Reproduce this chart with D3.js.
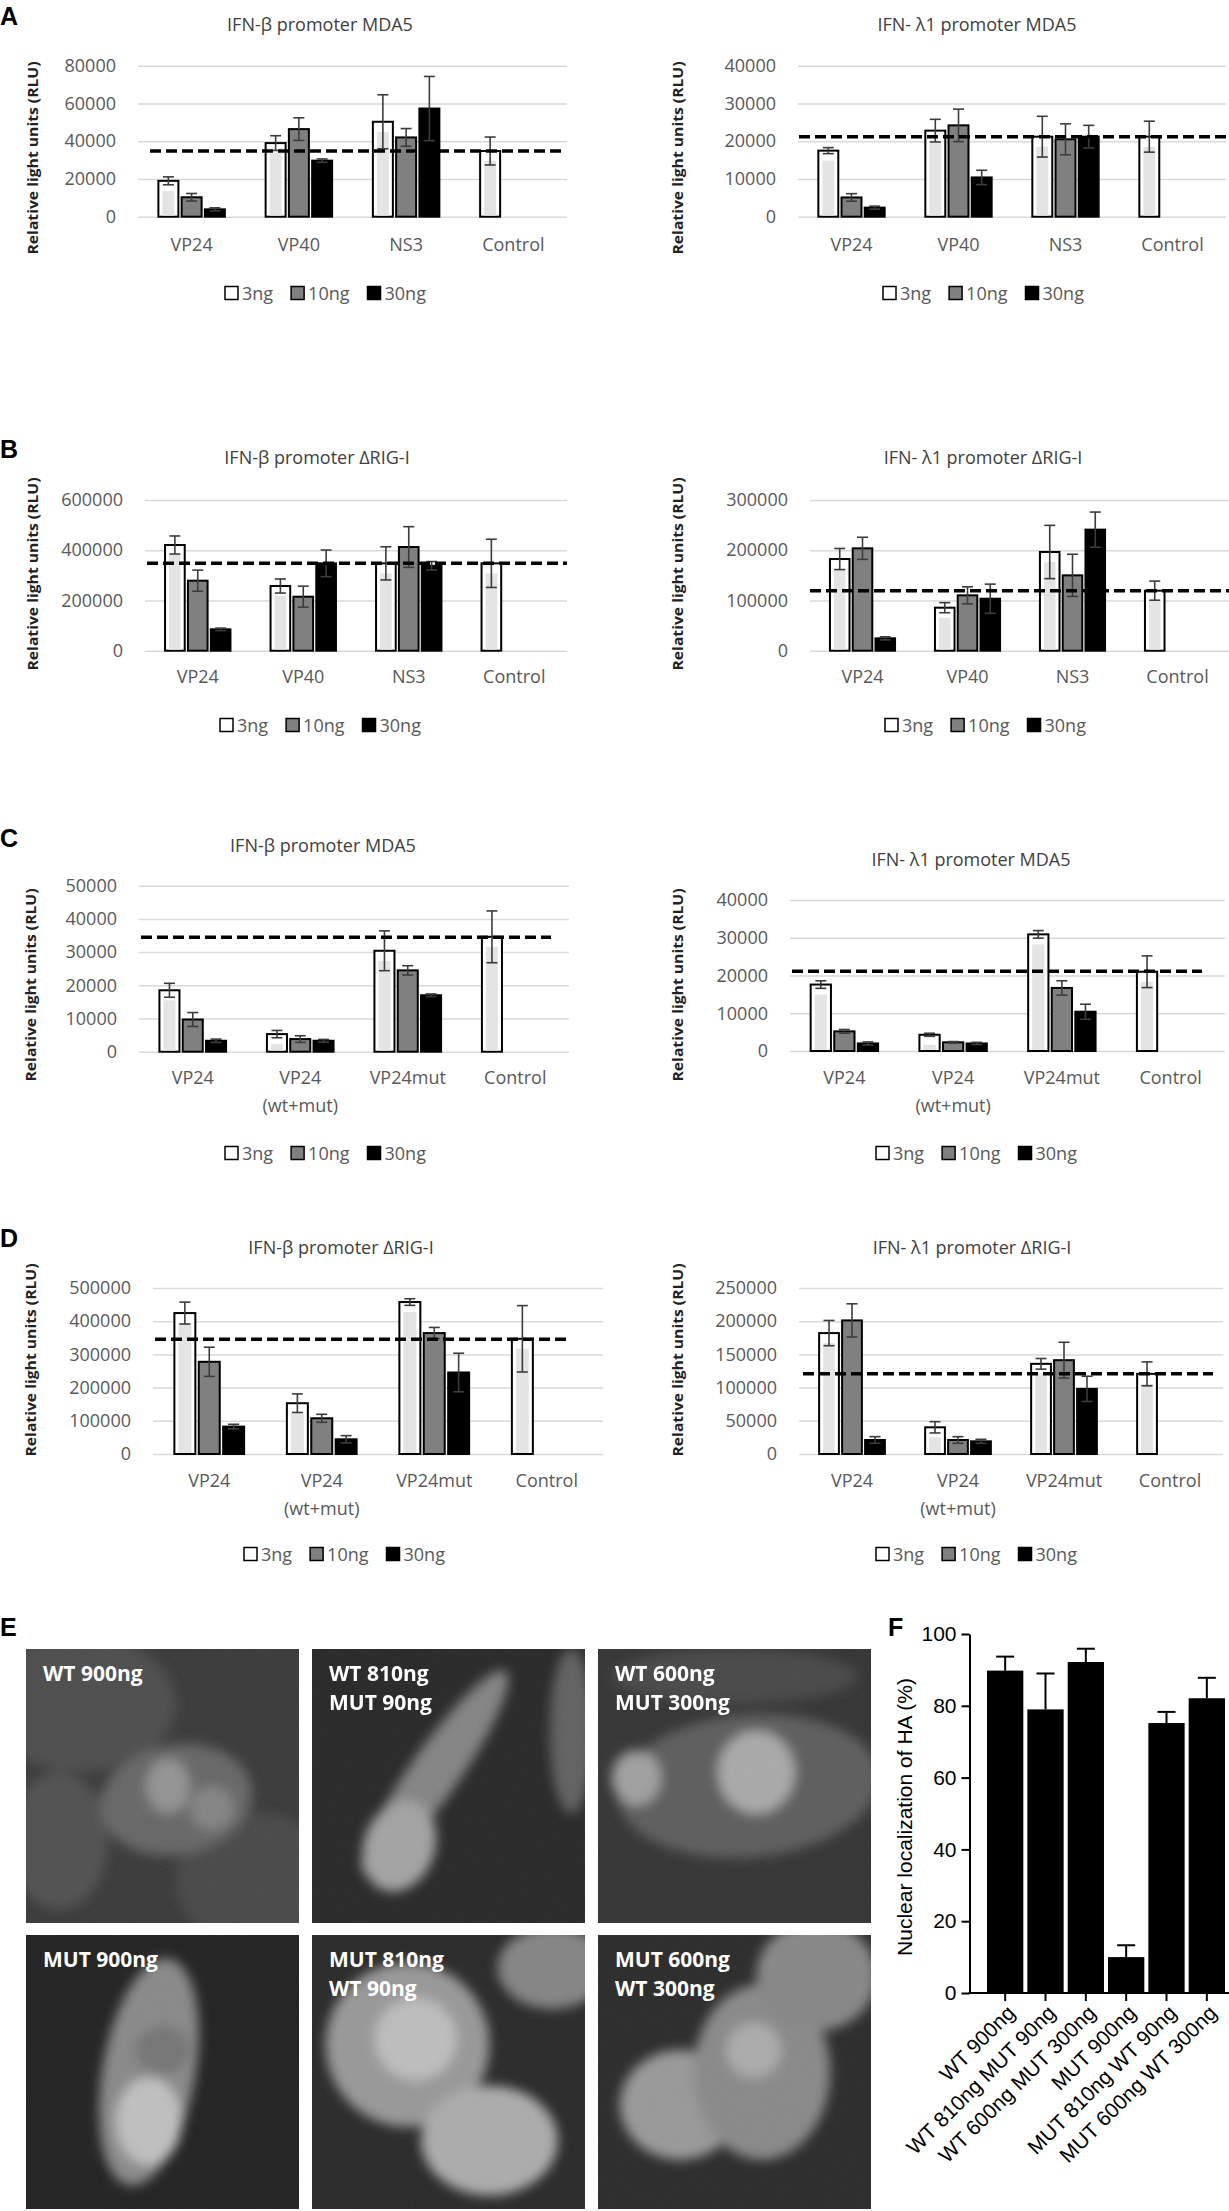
<!DOCTYPE html>
<html>
<head>
<meta charset="utf-8">
<script src="https://cdn.jsdelivr.net/npm/d3@7"></script>
<style>
  body { margin: 0; background: #fff; }
  svg { display: block; }
</style>
</head>
<body>
<div id="fig"></div>
<script>
const W = 1229, H = 2211;

// categories and doses
const doses = ["3ng", "10ng", "30ng"];
const catsVirus = ["VP24", "VP40", "NS3", "Control"];
const catsMut = ["VP24", "VP24|(wt+mut)", "VP24mut", "Control"];

// A  MDA5, viral proteins (rows = 3ng, 10ng, 30ng)
const aBetaMean = [[19000, 39000, 50300, 34800], [10300, 46400, 42000, null], [3900, 29700, 57300, null]];
const aBetaErr = [[2100, 3900, 14300, 7400], [2000, 6000, 4700, null], [800, 900, 17000, null]];
const aBetaCtrl = 34800;
const aBetaTicks = [0, 20000, 40000, 60000, 80000];

const aLamMean = [[17500, 22800, 21200, 21200], [5100, 24200, 20500, null], [2400, 10400, 21200, null]];
const aLamErr = [[800, 3000, 5400, 4100], [1000, 4300, 4100, null], [400, 1900, 3000, null]];
const aLamCtrl = 21200;
const aLamTicks = [0, 10000, 20000, 30000, 40000];

// B  ΔRIG-I, viral proteins
const bBetaMean = [[420800, 257500, 347800, 347800], [278800, 215000, 412800, null], [85000, 347800, 338000, null]];
const bBetaErr = [[36000, 28000, 66000, 96000], [42000, 42000, 81000, null], [5000, 53000, 17000, null]];
const bBetaCtrl = 347800;
const bBetaTicks = [0, 200000, 400000, 600000];

const bLamMean = [[182500, 85600, 196500, 119500], [203800, 110200, 150000, null], [24600, 103500, 241000, null]];
const bLamErr = [[21000, 10000, 53000, 19000], [22000, 17000, 42000, null], [3000, 29000, 35000, null]];
const bLamCtrl = 119500;
const bLamTicks = [0, 100000, 200000, 300000];

// C  MDA5, VP24 wt / mut
const cBetaMean = [[18500, 5300, 30400, 34600], [9700, 3800, 24500, null], [3300, 3300, 17000, null]];
const cBetaErr = [[2100, 1100, 6000, 7800], [2100, 1000, 1400, null], [500, 400, 400, null]];
const cBetaCtrl = 34500;
const cBetaTicks = [0, 10000, 20000, 30000, 40000, 50000];

const cLamMean = [[17600, 4300, 30900, 21000], [5200, 2300, 16700, null], [2000, 2000, 10400, null]];
const cLamErr = [[1000, 400, 1000, 4200], [500, 200, 1900, null], [400, 300, 2000, null]];
const cLamCtrl = 21100;
const cLamTicks = [0, 10000, 20000, 30000, 40000];

// D  ΔRIG-I, VP24 wt / mut
const dBetaMean = [[424500, 153000, 457700, 347000], [277700, 107600, 364200, null], [82500, 44300, 245500, null]];
const dBetaErr = [[33000, 28000, 10000, 100000], [44000, 12000, 17000, null], [7000, 11000, 58000, null]];
const dBetaCtrl = 346000;
const dBetaTicks = [0, 100000, 200000, 300000, 400000, 500000];

const dLamMean = [[182100, 40200, 135800, 120700], [201200, 21100, 141300, null], [21100, 19100, 98100, null]];
const dLamErr = [[19000, 8500, 8000, 18000], [25000, 5000, 27000, null], [5000, 3000, 19000, null]];
const dLamCtrl = 120700;
const dLamTicks = [0, 50000, 100000, 150000, 200000, 250000];

// F  nuclear localization
const fLabels = ["WT 900ng", "WT 810ng MUT 90ng", "WT 600ng MUT 300ng", "MUT 900ng", "MUT 810ng WT 90ng", "MUT 600ng WT 300ng"];
const fValues = [89.8, 79.0, 92.2, 10.0, 75.2, 82.1];
const fErr = [3.9, 10.0, 3.7, 3.3, 3.1, 5.7];
const fTicks = [0, 20, 40, 60, 80, 100];

// E  image labels
const photoLabels = [["WT 900ng"], ["WT 810ng", "MUT 90ng"], ["WT 600ng", "MUT 300ng"],
                     ["MUT 900ng"], ["MUT 810ng", "WT 90ng"], ["MUT 600ng", "WT 300ng"]];

const betaTitle = "IFN-β promoter ";
const lamTitle = "IFN- λ1 promoter ";

const charts = [
  { title: betaTitle + "MDA5", cats: catsVirus, mean: aBetaMean, err: aBetaErr, ctrl: aBetaCtrl, ticks: aBetaTicks,
    plotL: 138, plotR: 567, yTop: 65.7, yBot: 216.7, titleX: 320, titleY: 31, catY: 251, legX: 225, legY: 293, dash: [150, 561], ytX: 33, ytY: 158 },
  { title: lamTitle + "MDA5", cats: catsVirus, mean: aLamMean, err: aLamErr, ctrl: aLamCtrl, ticks: aLamTicks,
    plotL: 798, plotR: 1226, yTop: 65.7, yBot: 216.7, titleX: 977, titleY: 31, catY: 251, legX: 883, legY: 293, dash: [799, 1229], ytX: 678, ytY: 158 },
  { title: betaTitle + "ΔRIG-I", cats: catsVirus, mean: bBetaMean, err: bBetaErr, ctrl: bBetaCtrl, ticks: bBetaTicks,
    plotL: 145, plotR: 567, yTop: 500, yBot: 650.7, titleX: 317, titleY: 464, catY: 683, legX: 220, legY: 725, dash: [147, 567], ytX: 33, ytY: 574 },
  { title: lamTitle + "ΔRIG-I", cats: catsVirus, mean: bLamMean, err: bLamErr, ctrl: bLamCtrl, ticks: bLamTicks,
    plotL: 810, plotR: 1230, yTop: 500, yBot: 650.7, titleX: 983, titleY: 464, catY: 683, legX: 885, legY: 725, dash: [810, 1229], ytX: 678, ytY: 574 },
  { title: betaTitle + "MDA5", cats: catsMut, mean: cBetaMean, err: cBetaErr, ctrl: cBetaCtrl, ticks: cBetaTicks,
    plotL: 139, plotR: 569, yTop: 885.7, yBot: 1051.7, titleX: 323, titleY: 852, catY: 1084, legX: 225, legY: 1153, dash: [141, 551], ytX: 31, ytY: 985 },
  { title: lamTitle + "MDA5", cats: catsMut, mean: cLamMean, err: cLamErr, ctrl: cLamCtrl, ticks: cLamTicks,
    plotL: 790, plotR: 1225, yTop: 900, yBot: 1051, titleX: 971, titleY: 866, catY: 1084, legX: 876, legY: 1153, dash: [792, 1202], ytX: 678, ytY: 985 },
  { title: betaTitle + "ΔRIG-I", cats: catsMut, mean: dBetaMean, err: dBetaErr, ctrl: dBetaCtrl, ticks: dBetaTicks,
    plotL: 153, plotR: 603, yTop: 1288, yBot: 1454, titleX: 341, titleY: 1254, catY: 1487, legX: 244, legY: 1554, dash: [155, 566], ytX: 31, ytY: 1360 },
  { title: lamTitle + "ΔRIG-I", cats: catsMut, mean: dLamMean, err: dLamErr, ctrl: dLamCtrl, ticks: dLamTicks,
    plotL: 799, plotR: 1223, yTop: 1288, yBot: 1454, titleX: 972, titleY: 1254, catY: 1487, legX: 876, legY: 1554, dash: [803, 1213], ytX: 678, ytY: 1360 }
];

const font = "'Open Sans', 'Noto Sans', sans-serif";
const doseFill = { "3ng": "#ffffff", "10ng": "#808080", "30ng": "#000000" };

const svg = d3.select("#fig").append("svg")
  .attr("width", W).attr("height", H)
  .attr("viewBox", `0 0 ${W} ${H}`);
svg.append("rect").attr("width", W).attr("height", H).attr("fill", "#fff");
const defs = svg.append("defs");

function drawChart(c) {
  const g = svg.append("g");
  const x = d3.scaleBand().domain(c.cats).range([c.plotL, c.plotR]);
  const y = d3.scaleLinear().domain([0, d3.max(c.ticks)]).range([c.yBot, c.yTop]);
  const gw = x.bandwidth() * 0.62;
  const xd = d3.scaleBand().domain(doses).range([-gw / 2, gw / 2]).paddingInner(0.14);
  const right = Math.min(c.plotR, W);

  // gridlines + tick labels
  const yAxis = g.append("g").attr("transform", `translate(${c.plotL},0)`)
    .call(d3.axisLeft(y).tickValues(c.ticks).tickSize(-(right - c.plotL)).tickPadding(22).tickFormat(d3.format("d")));
  yAxis.select(".domain").remove();
  yAxis.selectAll(".tick line").attr("stroke", "#d9d9d9").attr("stroke-width", 1.5);
  yAxis.selectAll(".tick text").attr("fill", "#595959").style("font", `18px ${font}`);

  // category labels
  const xAxis = g.append("g").attr("transform", `translate(0,${c.yBot})`)
    .call(d3.axisBottom(x).tickSize(0).tickPadding(c.catY - c.yBot - 13));
  xAxis.select(".domain").remove();
  xAxis.selectAll(".tick text").attr("fill", "#595959").style("font", `18px ${font}`)
    .each(function (d) {
      const parts = d.split("|");
      const t = d3.select(this).attr("dy", null).text(null);
      parts.forEach((p, i) => t.append("tspan").attr("x", 0).attr("dy", i ? "1.55em" : "0.71em").text(p));
    });

  // bars
  const rows = [];
  doses.forEach((dose, k) => c.mean[k].forEach((v, i) => {
    if (v != null) rows.push({ dose, cat: c.cats[i], v, e: c.err[k][i] });
  }));
  const bx = d => x(d.cat) + x.bandwidth() / 2 + xd(d.dose);
  const bw = xd.bandwidth();

  g.selectAll("rect.bar").data(rows).join("rect")
    .attr("x", bx).attr("y", d => y(d.v))
    .attr("width", bw).attr("height", d => y(0) - y(d.v))
    .attr("fill", d => doseFill[d.dose]).attr("stroke", "#000").attr("stroke-width", 2);

  // light inner fill of the 3ng bars
  g.selectAll("rect.inner").data(rows.filter(d => d.dose === "3ng" && y(0) - y(d.v) > 16)).join("rect")
    .attr("x", d => bx(d) + 4).attr("y", d => y(d.v) + 10)
    .attr("width", bw - 8).attr("height", d => y(0) - y(d.v) - 11)
    .attr("fill", "#e4e4e4");

  // error bars
  const eb = g.selectAll("g.err").data(rows).join("g")
    .attr("stroke", "#3c3c3c").attr("stroke-width", 1.6);
  eb.append("line")
    .attr("x1", d => bx(d) + bw / 2).attr("x2", d => bx(d) + bw / 2)
    .attr("y1", d => y(d.v - d.e)).attr("y2", d => y(d.v + d.e));
  [-1, 1].forEach(s => eb.append("line")
    .attr("x1", d => bx(d) + bw / 2 - 5.5).attr("x2", d => bx(d) + bw / 2 + 5.5)
    .attr("y1", d => y(d.v + s * d.e)).attr("y2", d => y(d.v + s * d.e)));

  // control level
  g.append("line")
    .attr("x1", c.dash[0]).attr("x2", c.dash[1])
    .attr("y1", y(c.ctrl)).attr("y2", y(c.ctrl))
    .attr("stroke", "#000").attr("stroke-width", 3.5).attr("stroke-dasharray", "11 5");

  // title
  g.append("text").attr("x", c.titleX).attr("y", c.titleY)
    .attr("text-anchor", "middle").attr("fill", "#404040")
    .style("font", `18px ${font}`).text(c.title);

  // y title
  g.append("text").attr("transform", `translate(${c.ytX},${c.ytY}) rotate(-90)`)
    .attr("text-anchor", "middle").attr("dy", "0.35em").attr("fill", "#222")
    .attr("textLength", 193).attr("lengthAdjust", "spacingAndGlyphs")
    .style("font", `bold 15px ${font}`).text("Relative light units (RLU)");

  // legend
  const leg = g.append("g").attr("transform", `translate(${c.legX},${c.legY})`);
  let off = 0;
  doses.forEach(dose => {
    const it = leg.append("g").attr("transform", `translate(${off},0)`);
    it.append("rect").attr("x", 0).attr("y", -6.5).attr("width", 13).attr("height", 13)
      .attr("fill", doseFill[dose]).attr("stroke", "#000").attr("stroke-width", 1.5);
    const t = it.append("text").attr("x", 17).attr("y", 6.5).attr("fill", "#595959")
      .style("font", `18px ${font}`).text(dose);
    off += 17 + t.node().getComputedTextLength() + 18;
  });
}

charts.forEach(drawChart);

// panel letters
const letters = [["A", 0, 25], ["B", 0, 458], ["C", 0, 847], ["D", 0, 1247], ["E", 0, 1636], ["F", 888, 1636]];
svg.selectAll("text.letter").data(letters).join("text")
  .attr("x", d => d[1]).attr("y", d => d[2])
  .style("font", "bold 25px 'Liberation Sans', Arial, sans-serif").text(d => d[0]);

// E  microscopy panels (drawn as soft grey cells with grain)
const photoX = [26, 312, 598], photoY = [1649, 1935], photoW = 273, photoH = 274;
const cellBlobs = [
  [[0.2, 0.2, 0.35, 0.25, 0, "#444"], [0.85, 0.85, 0.3, 0.25, 0, "#404040"], [0.12, 0.7, 0.18, 0.25, 0, "#484848"],
   [0.55, 0.55, 0.28, 0.2, -10, "#606060"], [0.52, 0.5, 0.08, 0.1, 0, "#909090"], [0.68, 0.58, 0.08, 0.08, 0, "#808080"]],
  [[0.45, 0.45, 0.09, 0.45, 35, "#808080"], [0.32, 0.72, 0.13, 0.17, 20, "#a2a2a2"], [0.95, 0.3, 0.08, 0.3, 0, "#5c5c5c"]],
  [[0.55, 0.5, 0.48, 0.26, -5, "#565656"], [0.14, 0.47, 0.09, 0.1, 0, "#9e9e9e"], [0.58, 0.45, 0.14, 0.15, 0, "#a8a8a8"],
   [0.5, 0.1, 0.45, 0.1, 0, "#404040"]],
  [[0.45, 0.5, 0.17, 0.42, 10, "#858585"], [0.45, 0.68, 0.12, 0.16, 0, "#c0c0c0"], [0.5, 0.42, 0.1, 0.09, 0, "#707070"]],
  [[0.35, 0.4, 0.3, 0.3, 0, "#959595"], [0.38, 0.38, 0.15, 0.15, 0, "#bdbdbd"], [0.65, 0.75, 0.25, 0.2, 0, "#aaaaaa"],
   [0.88, 0.12, 0.2, 0.15, 0, "#808080"]],
  [[0.3, 0.62, 0.22, 0.2, 0, "#969696"], [0.6, 0.5, 0.25, 0.32, 0, "#858585"], [0.57, 0.42, 0.1, 0.1, 0, "#aaaaaa"],
   [0.8, 0.15, 0.22, 0.2, 0, "#838383"]]
];
const photoBg = ["#303030", "#1e1e1e", "#2a2a2a", "#161616", "#1e1e1e", "#202020"];

defs.append("filter").attr("id", "soft").attr("x", "-50%").attr("y", "-50%").attr("width", "200%").attr("height", "200%")
  .append("feGaussianBlur").attr("stdDeviation", 6);
const grain = defs.append("filter").attr("id", "grain").attr("x", 0).attr("y", 0).attr("width", 1).attr("height", 1);
grain.append("feTurbulence").attr("type", "fractalNoise").attr("baseFrequency", 0.85).attr("numOctaves", 2).attr("seed", 4);
grain.append("feColorMatrix").attr("type", "matrix")
  .attr("values", "0.33 0.33 0.33 0 0  0.33 0.33 0.33 0 0  0.33 0.33 0.33 0 0  0 0 0 0 0.1");

photoLabels.forEach((lines, i) => {
  const px = photoX[i % 3], py = photoY[Math.floor(i / 3)];
  defs.append("clipPath").attr("id", `ph${i}`)
    .append("rect").attr("x", px).attr("y", py).attr("width", photoW).attr("height", photoH);
  const pg = svg.append("g").attr("clip-path", `url(#ph${i})`);
  pg.append("rect").attr("x", px).attr("y", py).attr("width", photoW).attr("height", photoH).attr("fill", photoBg[i]);
  pg.append("g").attr("filter", "url(#soft)")
    .selectAll("ellipse").data(cellBlobs[i]).join("ellipse")
    .attr("cx", d => px + d[0] * photoW).attr("cy", d => py + d[1] * photoH)
    .attr("rx", d => d[2] * photoW).attr("ry", d => d[3] * photoH)
    .attr("transform", d => `rotate(${d[4]},${px + d[0] * photoW},${py + d[1] * photoH})`)
    .attr("fill", d => d[5]);
  pg.append("rect").attr("x", px).attr("y", py).attr("width", photoW).attr("height", photoH)
    .attr("filter", "url(#grain)");
  pg.selectAll("text").data(lines).join("text")
    .attr("x", px + 17).attr("y", (d, j) => py + 32 + j * 29)
    .attr("fill", "#fff").style("font", `bold 21px ${font}`).text(d => d);
});

// F  bar chart
const fFont = "21px 'Liberation Sans', Arial, sans-serif";
const fAxisX = 969.5, fBase = 1993;
const fy = d3.scaleLinear().domain([0, 100]).range([fBase, 1634]);
const fx = d3.scaleBand().domain(fLabels).range([985, 1227]).paddingInner(0.1).paddingOuter(0.05);
const fg = svg.append("g");

fg.selectAll("rect").data(fLabels).join("rect")
  .attr("x", d => fx(d)).attr("y", (d, i) => fy(fValues[i]))
  .attr("width", fx.bandwidth()).attr("height", (d, i) => fBase - fy(fValues[i]))
  .attr("fill", "#000");

const fe = fg.selectAll("g.ferr").data(fLabels).join("g").attr("stroke", "#000").attr("stroke-width", 2);
fe.append("line")
  .attr("x1", d => fx(d) + fx.bandwidth() / 2).attr("x2", d => fx(d) + fx.bandwidth() / 2)
  .attr("y1", (d, i) => fy(fValues[i])).attr("y2", (d, i) => fy(fValues[i] + fErr[i]));
fe.append("line")
  .attr("x1", d => fx(d) + fx.bandwidth() / 2 - 9).attr("x2", d => fx(d) + fx.bandwidth() / 2 + 9)
  .attr("y1", (d, i) => fy(fValues[i] + fErr[i])).attr("y2", (d, i) => fy(fValues[i] + fErr[i]));

const fyAxis = fg.append("g").attr("transform", `translate(${fAxisX},0)`)
  .call(d3.axisLeft(fy).tickValues(fTicks).tickSize(8).tickSizeOuter(0).tickPadding(5));
fyAxis.selectAll("path, line").attr("stroke", "#000").attr("stroke-width", 2);
fyAxis.selectAll("text").attr("fill", "#000").style("font", fFont);

const fxAxis = fg.append("g").attr("transform", `translate(0,${fBase})`)
  .call(d3.axisBottom(fx).tickSize(8).tickSizeOuter(0));
fxAxis.select(".domain").remove();
fxAxis.selectAll("line").attr("stroke", "#000").attr("stroke-width", 2);
fxAxis.selectAll("text").attr("fill", "#000").style("font", fFont)
  .attr("text-anchor", "end").attr("y", 0).attr("dy", "0.35em")
  .attr("transform", "translate(6,16) rotate(-45)");
fg.append("line").attr("x1", fAxisX - 1).attr("x2", W).attr("y1", fBase).attr("y2", fBase)
  .attr("stroke", "#000").attr("stroke-width", 2);

fg.append("text").attr("transform", `translate(905,1817) rotate(-90)`)
  .attr("text-anchor", "middle").attr("dy", "0.35em")
  .style("font", fFont).text("Nuclear localization of HA (%)");
</script>
</body>
</html>
